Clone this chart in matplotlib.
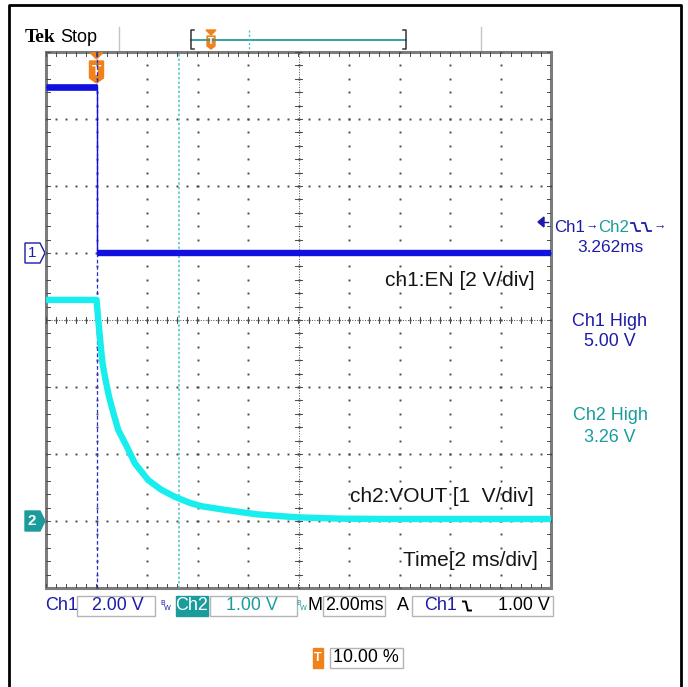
import numpy as np
import matplotlib.pyplot as plt
from matplotlib.patches import Rectangle, Polygon

# trace data (time in ms, volts)
ch1_t = [-2.0, 0.0, 0.0, 18.0]
ch1_v = [4.95, 4.95, 0.0, 0.0]

ch2_t = [-2.0, 0.0, 0.03, 0.07, 0.17, 0.24, 0.36, 0.50, 0.67, 0.86, 1.20, 1.52,
         2.05, 2.55, 3.11, 3.70, 4.17, 5.02, 6.34, 7.93, 9.64, 11.62, 14.0, 18.0]
ch2_v = [3.30, 3.30, 3.18, 3.00, 2.60, 2.35, 2.10, 1.85, 1.61, 1.36, 1.11, 0.86,
         0.61, 0.47, 0.36, 0.27, 0.22, 0.17, 0.10, 0.055, 0.035, 0.03, 0.03, 0.03]

ch1_scale, ch2_scale = 2.0, 1.0      # V/div
ch1_pos, ch2_pos = 1.0, -3.0         # ground marker, div from centre
trig_t = 0.0
cursor_t = 3.262

labels = ["ch1:EN [2 V/div]", "ch2:VOUT [1  V/div]", "Time[2 ms/div]"]

BLUE = "#1010e0"
CYAN = "#18eeee"
TXT_BLUE = "#1c1ca8"
TEAL = "#1a9c9c"
ORANGE = "#f0821e"
GRID = "#4a4a4a"
SANS = "Liberation Sans"

W, H = 688, 687
fig = plt.figure(figsize=(W / 100, H / 100), dpi=100)
ov = fig.add_axes([0, 0, 1, 1])
ov.set_xlim(0, W)
ov.set_ylim(H, 0)
ov.axis("off")

gl, gt, gr, gb = 46, 52, 551, 588
ax = fig.add_axes([gl / W, 1 - gb / H, (gr - gl) / W, (gb - gt) / H])
ax.set_xlim(-2, 18)
ax.set_ylim(-4, 4)
ax.axis("off")
ax.patch.set_visible(False)

def px(t):
    return gl + (t + 2) / 20 * (gr - gl)

def stext(x, y, s, size, color, **kw):
    kw.setdefault("ha", "center")
    kw.setdefault("va", "center")
    return ov.text(x, y, s, fontsize=size, color=color, family=SANS, **kw)

# ---- graticule
xmaj = np.arange(-2, 18.01, 2)
ymaj = np.arange(-4, 4.01, 1)
xmin = np.arange(-2, 18.01, 0.4)
ymin = np.arange(-4, 4.01, 0.2)
dot = dict(ls="none", marker="s", ms=1.4, mec="none", mfc=GRID)
for x in xmaj[1:-1]:
    ax.plot(np.full_like(ymin, x), ymin, **dot)
for y in ymaj[1:-1]:
    ax.plot(xmin, np.full_like(xmin, y), **dot)

# centre lines with ruler ticks
ax.plot([8, 8], [-4, 4], color=GRID, lw=0.7, ls=(0, (1, 1.6)))
ax.plot([-2, 18], [0, 0], color=GRID, lw=0.7, ls=(0, (1, 1.6)))
for y in ymin:
    ax.plot([8 - 0.12, 8 + 0.12], [y, y], color=GRID, lw=0.7)
for x in xmin:
    ax.plot([x, x], [-0.045, 0.045], color=GRID, lw=0.7)
# border ticks
for y in ymin:
    ax.plot([-2, -1.85], [y, y], color=GRID, lw=0.7)
    ax.plot([17.85, 18], [y, y], color=GRID, lw=0.7)
for x in xmin:
    ax.plot([x, x], [-4, -3.94], color=GRID, lw=0.7)
    ax.plot([x, x], [3.94, 4], color=GRID, lw=0.7)

ov.add_patch(Rectangle((gl, gt), gr - gl, gb - gt, fill=False,
                       ec="#7c7c7c", lw=2.2, zorder=5))

# cursors
ax.axvline(trig_t, color="#2a2ad0", lw=0.9, ls=(0, (3, 2)))
ax.axvline(cursor_t, color="#46c4c4", lw=1.1, ls=(0, (1.5, 1.5)))

# ---- traces
y1 = np.array(ch1_v) / ch1_scale + ch1_pos
y2 = np.array(ch2_v) / ch2_scale + ch2_pos
ax.plot(ch1_t, y1, color=BLUE, lw=1.0, zorder=6)
ax.plot(ch1_t[:2], y1[:2], color=BLUE, lw=4.8, solid_capstyle="butt", zorder=6)
ax.plot(ch1_t[2:], y1[2:], color=BLUE, lw=4.6, solid_capstyle="butt", zorder=6)
ax.plot(ch2_t, y2, color=CYAN, lw=4.6, solid_capstyle="butt",
        solid_joinstyle="round", zorder=6)

# annotations inside the graticule
for (x, y), s in zip([(535, 281), (534, 497), (538, 560)], labels):
    ov.text(x, y, s, ha="right", va="center", fontsize=15,
            family=SANS, color="#151515", zorder=7)

# ---- trigger marker on graticule top
tx = px(trig_t)
ov.add_patch(Polygon([(tx - 6, 53), (tx + 6, 53), (tx, 59)], color=ORANGE, zorder=6))
ov.add_patch(Polygon([(tx - 7, 61), (tx + 7, 61), (tx + 7, 78), (tx, 83), (tx - 7, 78)],
                     color=ORANGE, zorder=6))
ov.text(tx, 71, "T", ha="center", va="center", color="white", fontsize=11,
        family=SANS, weight="bold", zorder=7)

# channel ground markers
y1m, y2m = 253, 521
ov.add_patch(Polygon([(25, y1m - 10), (40, y1m - 10), (45, y1m), (40, y1m + 10), (25, y1m + 10)],
                     fc="white", ec=TXT_BLUE, lw=1))
stext(32, y1m, "1", 11, TXT_BLUE)
ov.add_patch(Polygon([(25, y2m - 10), (40, y2m - 10), (45, y2m), (40, y2m + 10), (25, y2m + 10)],
                     fc=TEAL, ec=TEAL, lw=1))
stext(32, y2m, "2", 11, "white", weight="bold")

# ---- header
ov.text(25, 38, "Tek", ha="left", va="center", fontsize=14, weight="bold",
        family="Liberation Serif", color="black")
stext(60, 37, "Stop", 13, "black", ha="left")
ov.plot([119, 119], [27, 52], color="#c4c4c4", lw=1)
ov.plot([481, 481], [27, 52], color="#c4c4c4", lw=1)
ov.plot([191, 406], [40, 40], color="#2a9a9a", lw=1.3)
for bx, d in [(191, 3), (406, -3)]:
    ov.plot([bx + d, bx, bx, bx + d], [30, 30, 49, 49], color="#333333", lw=1.1)
ov.plot([249, 249], [30, 49], color="#46c4c4", lw=1, ls=(0, (1.5, 1.5)))
ov.add_patch(Polygon([(206, 30), (216, 30), (211, 35)], color=ORANGE))
ov.add_patch(Polygon([(207, 36), (215, 36), (215, 46), (211, 49), (207, 46)], color=ORANGE))
ov.text(211, 41, "T", ha="center", va="center", color="white", fontsize=6, weight="bold")

# ---- right-hand readouts
ov.add_patch(Polygon([(538, 222), (544, 217), (544, 227)], color=TXT_BLUE))
ov.plot([544, 548], [222, 222], color=TXT_BLUE, lw=1)
stext(554, 227, "Ch1", 12.2, TXT_BLUE, ha="left")
stext(586, 227, "\u2192", 9, TXT_BLUE, ha="left")
stext(598, 227, "Ch2", 12.2, TEAL, ha="left")

def fall_icon(x0, y0, w=10, h=8, color=TXT_BLUE, lw=1.3):
    ov.plot([x0, x0 + w * 0.35, x0 + w * 0.6, x0 + w],
            [y0 - h / 2, y0 - h / 2, y0 + h / 2, y0 + h / 2], color=color, lw=lw)

fall_icon(631, 227, w=9)
fall_icon(642, 227, w=9)
stext(653, 227, "\u2192", 9, TXT_BLUE, ha="left")
stext(610, 247, "3.262ms", 12.4, TXT_BLUE)
stext(610, 321, "Ch1 High", 12.9, TXT_BLUE)
stext(610, 342, "5.00 V", 12.9, TXT_BLUE)
stext(610, 415, "Ch2 High", 12.9, TEAL)
stext(610, 437, "3.26 V", 12.9, TEAL)

# ---- bottom status bar
by0, by1 = 596, 616
bym = (by0 + by1) / 2
def box(x0, x1, fc="white", ec="#b4b4b4"):
    ov.add_patch(Rectangle((x0, by0), x1 - x0, by1 - by0, fc=fc, ec=ec, lw=1))

def bw(x, color):
    ov.text(x, bym - 3, "B", fontsize=5, color=color, ha="center", va="center")
    ov.text(x + 4, bym + 2, "W", fontsize=5, color=color, ha="center", va="center")

stext(45, bym, "Ch1", 12.9, TXT_BLUE, ha="left")
box(77, 155)
stext(118, bym, "2.00 V", 12.9, TXT_BLUE)
bw(163, TXT_BLUE)
box(176, 208, fc=TEAL, ec=TEAL)
stext(192, bym, "Ch2", 12.9, "white")
box(210, 297)
stext(252, bym, "1.00 V", 12.9, TEAL)
bw(299, TEAL)
stext(315, bym, "M", 12.9, "black")
box(323, 385)
stext(354, bym, "2.00ms", 12.9, "black")
stext(403, bym, "A", 12.9, "black")
box(412, 553)
stext(424, bym, "Ch1", 12.9, TXT_BLUE, ha="left")
fall_icon(463, bym, w=8, h=9, color="black", lw=1.4)
stext(550, bym, "1.00 V", 12.9, "black", ha="right")

# trigger position readout
ov.add_patch(Rectangle((313, 648), 10, 20, color=ORANGE))
ov.text(318, 658, "T", ha="center", va="center", color="white", fontsize=9,
        family=SANS, weight="bold")
ov.add_patch(Rectangle((330, 648), 73, 20, fc="white", ec="#b4b4b4", lw=1))
stext(366, 658, "10.00 %", 12.9, "black")

# outer frame
ov.plot([9, 9, 681, 681], [687, 5, 5, 687], color="black", lw=2)

fig.savefig("out.png", dpi=100, facecolor="white")
plt.close(fig)
